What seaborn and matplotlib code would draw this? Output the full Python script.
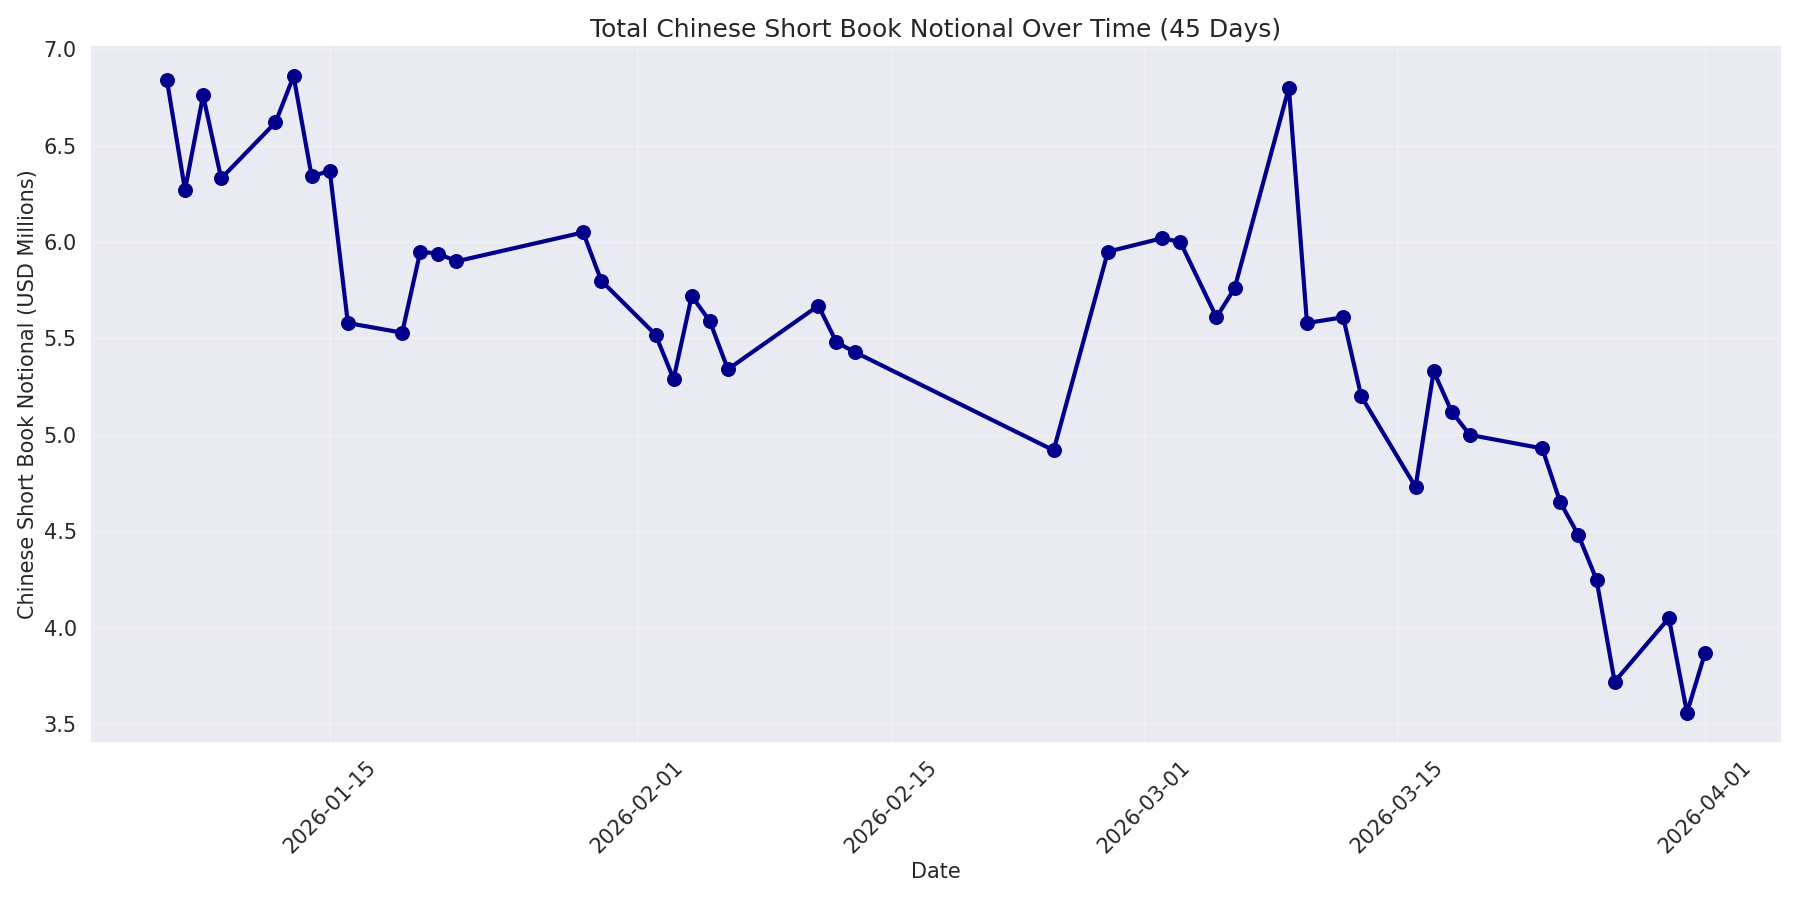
import matplotlib
matplotlib.use("Agg")
import matplotlib.pyplot as plt
import seaborn as sns
import pandas as pd
import matplotlib.dates as mdates

dates = ["2026-01-06","2026-01-07","2026-01-08","2026-01-09","2026-01-12","2026-01-13","2026-01-14","2026-01-15","2026-01-16",
         "2026-01-19","2026-01-20","2026-01-21","2026-01-22","2026-01-29","2026-01-30",
         "2026-02-02","2026-02-03","2026-02-04","2026-02-05","2026-02-06","2026-02-11","2026-02-12","2026-02-13","2026-02-24","2026-02-27",
         "2026-03-02","2026-03-03","2026-03-05","2026-03-06","2026-03-09","2026-03-10","2026-03-12","2026-03-13","2026-03-16","2026-03-17",
         "2026-03-18","2026-03-19","2026-03-23","2026-03-24","2026-03-25","2026-03-26","2026-03-27","2026-03-30","2026-03-31","2026-04-01"]
values = [6.84,6.27,6.76,6.33,6.62,6.86,6.34,6.37,5.58,5.53,5.95,5.94,5.90,6.05,5.80,
          5.52,5.29,5.72,5.59,5.34,5.67,5.48,5.43,4.92,5.95,
          6.02,6.00,5.61,5.76,6.80,5.58,5.61,5.20,4.73,5.33,5.12,5.00,4.93,4.65,4.48,4.25,3.72,4.05,3.56,3.87]

df = pd.DataFrame({"Date": pd.to_datetime(dates), "Value": values})

sns.set_theme(style="darkgrid")
plt.rcParams['font.family'] = ['DejaVu Sans']
fig, ax = plt.subplots(figsize=(18, 9), dpi=100)
sns.lineplot(data=df, x="Date", y="Value", ax=ax, color="darkblue", linewidth=3,
             marker="o", markersize=10, markeredgecolor="darkblue")
ax.set_title("Total Chinese Short Book Notional Over Time (45 Days)", fontsize=18)
ax.set_xlabel("Date", fontsize=15)
ax.set_ylabel("Chinese Short Book Notional (USD Millions)", fontsize=15)
ax.xaxis.set_major_locator(mdates.DayLocator(bymonthday=[1, 15]))
ax.xaxis.set_major_formatter(mdates.DateFormatter("%Y-%m-%d"))
ax.tick_params(axis='both', labelsize=15)
plt.setp(ax.get_xticklabels(), rotation=45)
ax.set_ylim(3.4, 7.02)
ax.grid(True, alpha=0.3)
plt.tight_layout()
fig.savefig("out.png")
